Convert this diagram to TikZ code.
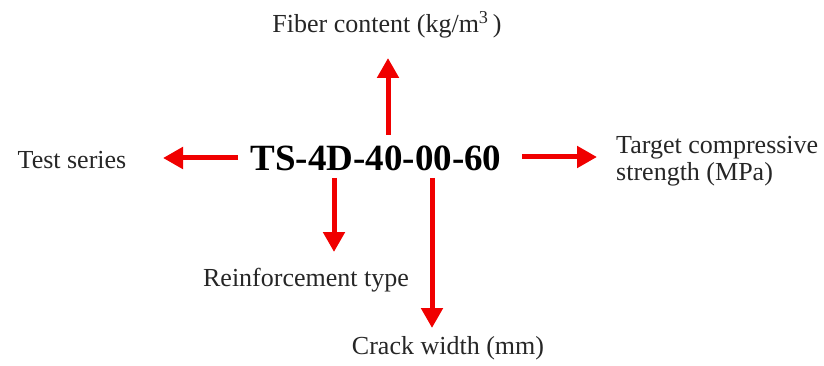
\documentclass[tikz,border=0pt]{standalone}
\usepackage{fontspec}
\setmainfont{Liberation Serif}
\usetikzlibrary{arrows.meta}
\definecolor{arrred}{RGB}{240,0,0}
\begin{document}
\begin{tikzpicture}[x=1pt,y=-1pt,
  arr/.style={draw=arrred, line width=5pt, -{Triangle[width=21pt,length=20pt]}},
  lab/.style={inner sep=0pt, text=black!85, font=\fontsize{26}{27}\selectfont},
  title/.style={inner sep=0pt, font=\bfseries\fontsize{37}{40}\selectfont}]
\useasboundingbox (0,0) rectangle (824,366);
\node[title] (ts) at (376,158) {TS-4D-40-00-60};
\node[lab] (fib) at (387,25) {Fiber content (kg/m\textsuperscript{3}\,)};
\node[lab] (ser) at (72,160) {Test series};
\node[lab, anchor=west, align=left] (tcs) at (616,161) {Target compressive\\strength (MPa)};
\node[lab] (rei) at (306,280) {Reinforcement type};
\node[lab] (crk) at (448,348) {Crack width (mm)};
% arrow end points
\coordinate (ls) at (238,158);
\coordinate (le) at (163,158);
\coordinate (rs) at (522,157);
\coordinate (re) at (597,157);
\coordinate (us) at (388,135);
\coordinate (ue) at (388,58);
\coordinate (d1s) at (334,178);
\coordinate (d1e) at (334,252);
\coordinate (d2s) at (432,178);
\coordinate (d2e) at (432,328);
\draw[arr] (ls) -- (le);
\draw[arr] (rs) -- (re);
\draw[arr] (us) -- (ue);
\draw[arr] (d1s) -- (d1e);
\draw[arr] (d2s) -- (d2e);
\end{tikzpicture}
\end{document}
